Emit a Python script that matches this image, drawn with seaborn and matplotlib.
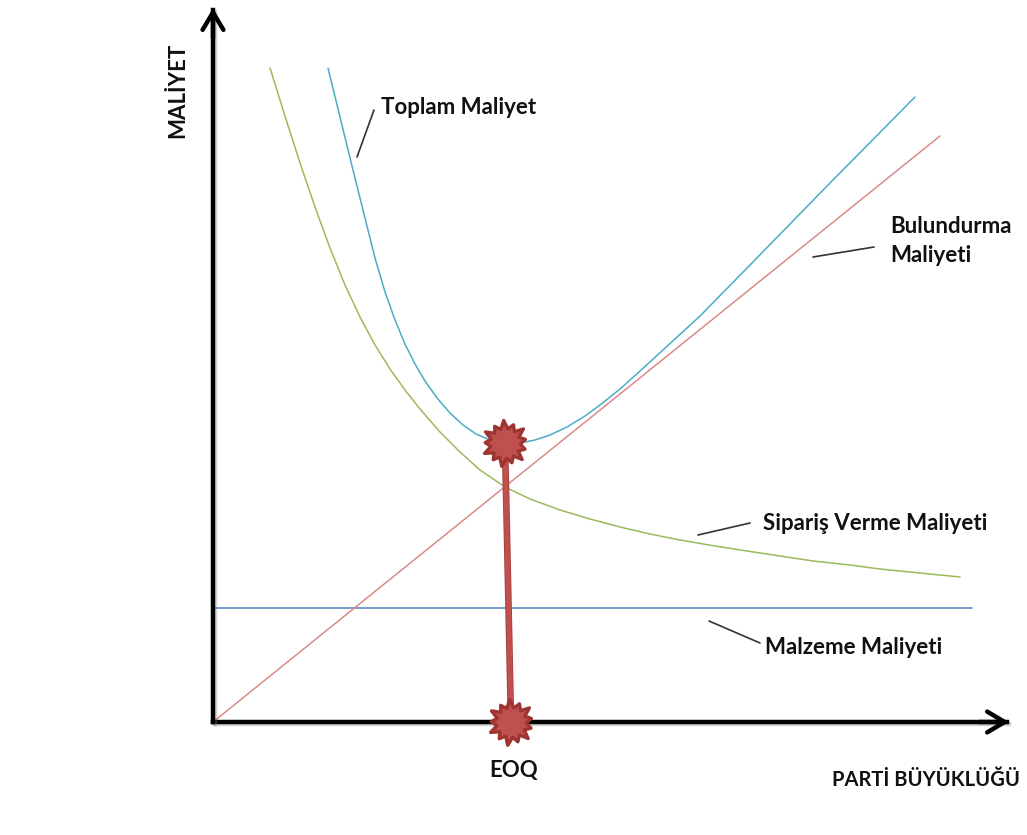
import numpy as np
import pandas as pd
import matplotlib
matplotlib.use("Agg")
import matplotlib.pyplot as plt
import matplotlib.patheffects as pe
from matplotlib.path import Path
import seaborn as sns

# Lot size (Q) and cost values, in drawing units measured from the origin
order_q = [57, 72, 87, 102, 117, 132, 147, 162, 177, 192, 207, 227, 247, 267, 292,
           317, 347, 377, 407, 437, 467, 502, 534, 567, 600, 637, 667, 707, 747]
order_cost = [654, 606, 559, 515, 474, 437, 405, 377, 353, 332, 313, 290, 270, 252, 235,
              223, 212, 203, 195, 188, 182, 176, 171, 166, 161, 157, 153, 149, 145]

total_q = [115, 127, 139, 151, 162, 172, 182, 192, 202, 212, 224, 237, 250, 263, 277,
           292, 307, 322, 337, 354, 372, 387, 407, 427, 450, 474, 487, 537, 617, 702]
total_cost = [654, 605, 556, 508, 464, 430, 402, 378, 358, 341, 324, 309, 297, 288, 282,
              279, 279, 282, 287, 295, 306, 317, 333, 351, 372, 394, 406, 457, 539, 625]

holding_q = [0, 727]
holding_cost = [0, 586]

material_q = [0, 759]
material_cost = [114, 114]

eoq_q = [292, 298]
eoq_cost = [279, 0]

x_axis_end = 796
y_axis_end = 714

labels = {
    "total": "Toplam Maliyet",
    "holding": "Bulundurma\nMaliyeti",
    "order": "Sipariş Verme Maliyeti",
    "material": "Malzeme Maliyeti",
    "eoq": "EOQ",
    "xlabel": "PARTİ BÜYÜKLÜĞÜ",
    "ylabel": "MALİYET",
}

sns.set_theme(style="white")
plt.rcParams["font.family"] = ["Lato", "DejaVu Sans"]

fig = plt.figure(figsize=(10.27, 8.35), dpi=100)
ax = fig.add_axes([0, 0, 1, 1])
ax.set_xlim(-213, 814)
ax.set_ylim(-113, 722)
ax.axis("off")

df_order = pd.DataFrame({"q": order_q, "cost": order_cost})
df_total = pd.DataFrame({"q": total_q, "cost": total_cost})
df_hold = pd.DataFrame({"q": holding_q, "cost": holding_cost})
df_mat = pd.DataFrame({"q": material_q, "cost": material_cost})
df_eoq = pd.DataFrame({"q": eoq_q, "cost": eoq_cost})

sns.lineplot(data=df_mat, x="q", y="cost", sort=False, estimator=None,
             color="#4F81BD", lw=1.1, ax=ax)
sns.lineplot(data=df_hold, x="q", y="cost", sort=False, estimator=None,
             color="#DA8A88", lw=1.1, ax=ax)
sns.lineplot(data=df_order, x="q", y="cost", sort=False, estimator=None,
             color="#9BBB59", lw=1.1, ax=ax)
sns.lineplot(data=df_total, x="q", y="cost", sort=False, estimator=None,
             color="#4BACC6", lw=1.1, ax=ax)

# EOQ drop line
sns.lineplot(data=df_eoq, x="q", y="cost", sort=False, estimator=None,
             color="#C0504D", lw=3.6, ax=ax,
             path_effects=[pe.Stroke(linewidth=4.8, foreground="#A53E3B"), pe.Normal()])

# Axes lines with a soft shadow
axis_fx = [pe.SimpleLineShadow(offset=(1.5, -1.5), shadow_color="gray", alpha=0.35),
           pe.Normal()]
ax.plot([0, x_axis_end - 2], [0, 0], color="black", lw=3.2,
        solid_capstyle="projecting", path_effects=axis_fx, zorder=4)
ax.plot([0, 0], [0, y_axis_end - 2], color="black", lw=3.2,
        solid_capstyle="projecting", path_effects=axis_fx, zorder=4)

# Open arrow heads at the axis ends
arrow_kw = dict(arrowstyle="->,head_length=0.42,head_width=0.25", lw=3.2,
                color="black", shrinkA=0, shrinkB=0, mutation_scale=30)
ax.annotate("", xy=(x_axis_end, 0), xytext=(x_axis_end - 30, 0),
            arrowprops=arrow_kw, zorder=4)
ax.annotate("", xy=(0, y_axis_end), xytext=(0, y_axis_end - 30),
            arrowprops=arrow_kw, zorder=4)

# Burst marker
n_pts = 13
angles = np.linspace(0, 2 * np.pi, 2 * n_pts, endpoint=False) + 0.2
radii = np.where(np.arange(2 * n_pts) % 2 == 0, 1.0, 0.64)
radii[::4] = 0.88
verts = np.column_stack([radii * np.cos(angles), radii * np.sin(angles)])
verts = np.vstack([verts, verts[:1]])
codes = [Path.MOVETO] + [Path.LINETO] * (len(verts) - 2) + [Path.CLOSEPOLY]
burst = Path(verts, codes)

sns.scatterplot(x=eoq_q, y=eoq_cost, marker=burst, s=1100, color="#C0504D",
                edgecolor="#9E3532", linewidth=2.4, ax=ax, zorder=6, legend=False)

# Text labels with leader lines
txt_kw = dict(fontsize=16, fontweight="bold", color="#111111")
ax.text(168, 615, labels["total"], ha="left", va="center", **txt_kw)
ax.plot([144, 161], [565, 612], color="#333333", lw=1.2)

ax.text(677, 481, labels["holding"], ha="left", va="center", linespacing=1.45, **txt_kw)
ax.plot([600, 661], [465, 475], color="#333333", lw=1.2)

ax.text(550, 199, labels["order"], ha="left", va="center", **txt_kw)
ax.plot([485, 537], [187, 199], color="#333333", lw=1.2)

ax.text(552, 74, labels["material"], ha="left", va="center", **txt_kw)
ax.plot([496, 547], [101, 79], color="#333333", lw=1.2)

ax.text(301, -48, labels["eoq"], ha="center", va="center", **txt_kw)
ax.text(713, -58, labels["xlabel"], ha="center", va="center",
        fontsize=14.5, fontweight="bold", color="#111111")
ax.text(-35, 632, labels["ylabel"], ha="center", va="center", rotation=90, **txt_kw)

fig.savefig("out.png", dpi=100, facecolor="white")
